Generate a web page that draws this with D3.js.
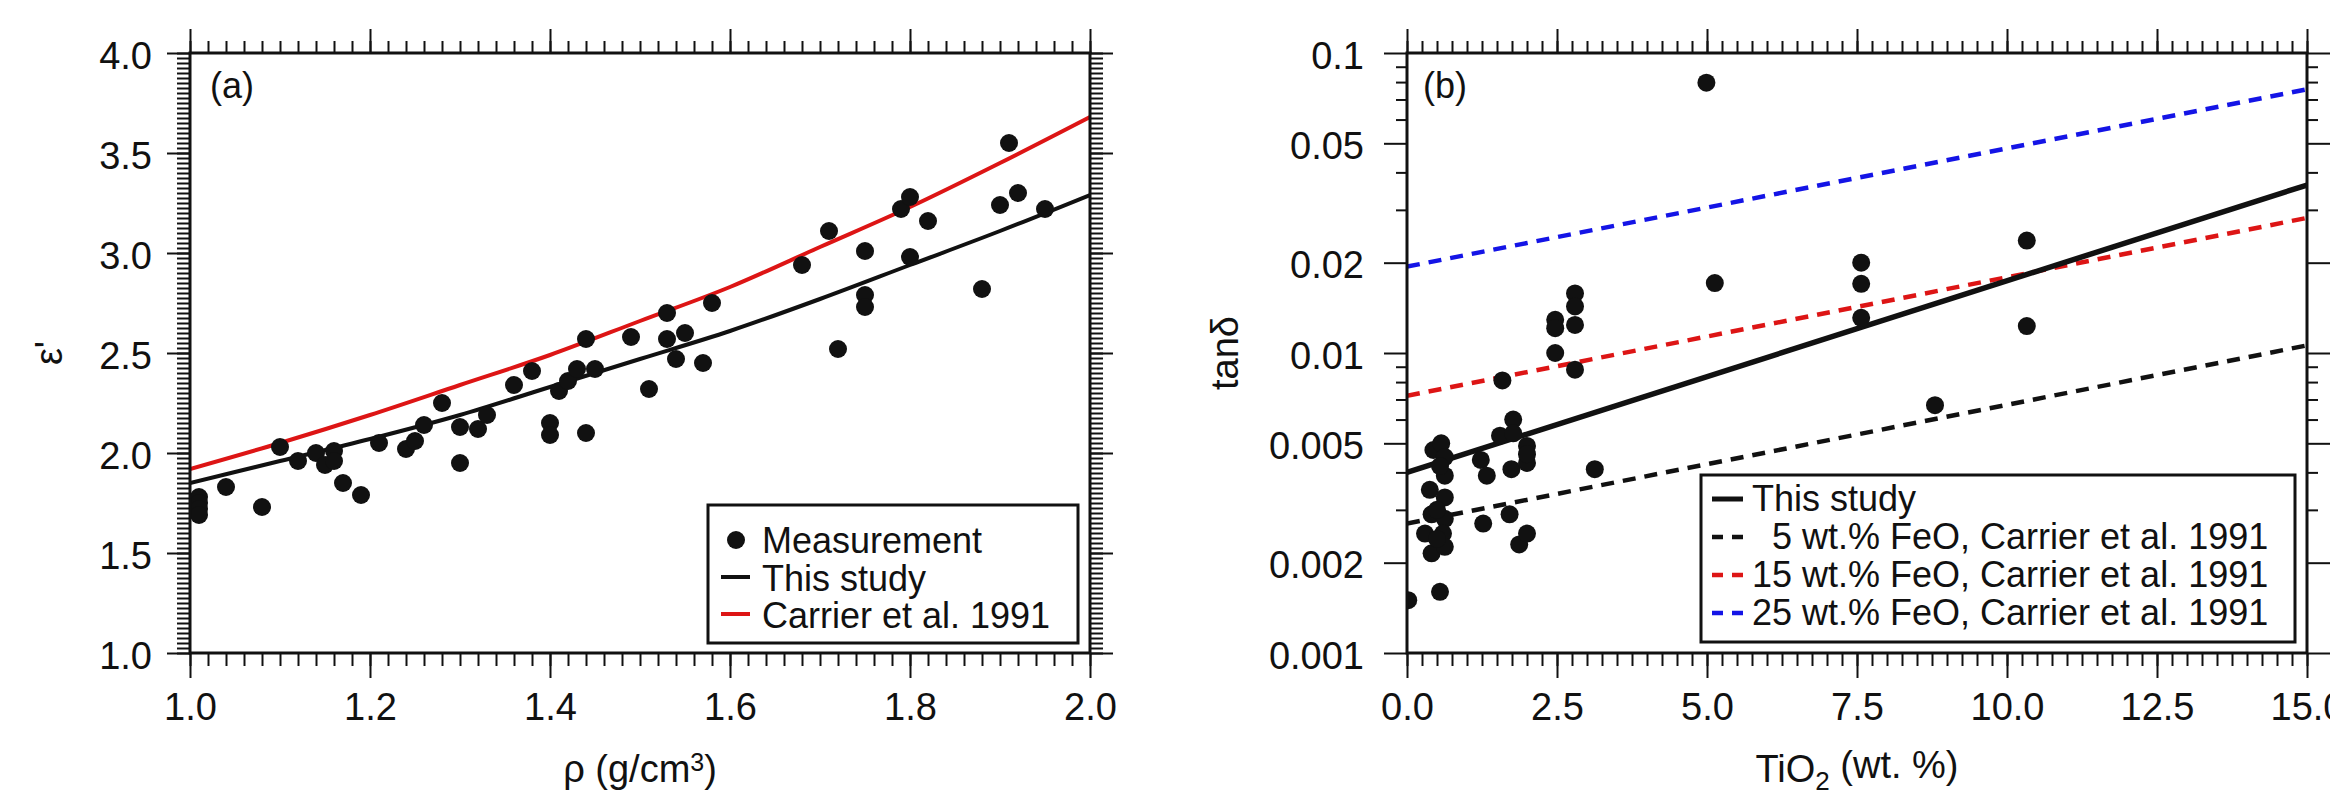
<!DOCTYPE html>
<meta charset="utf-8">
<script src="https://d3js.org/d3.v7.min.js"></script>
<style>
  body { margin: 0; background: #fff; }
  text { font-family: "Liberation Sans", Arial, Helvetica, sans-serif; fill: #111; }
</style>
<div id="my_dataviz"></div>
<script>
// ---- panel (a): permittivity vs bulk density ----
var rhoMeas = [1.01, 1.01, 1.01, 1.01, 1.04, 1.08, 1.10, 1.12, 1.14, 1.15, 1.16, 1.16, 1.17, 1.19,
  1.21, 1.24, 1.25, 1.26, 1.28, 1.30, 1.30, 1.32, 1.33, 1.36, 1.38, 1.40, 1.40, 1.41, 1.42, 1.43,
  1.44, 1.44, 1.45, 1.49, 1.51, 1.53, 1.53, 1.54, 1.55, 1.57, 1.58, 1.68, 1.71, 1.72, 1.75, 1.75,
  1.75, 1.79, 1.80, 1.80, 1.82, 1.88, 1.90, 1.91, 1.92, 1.95];
var epsMeas = [1.78, 1.75, 1.72, 1.69, 1.83, 1.73, 2.03, 1.96, 2.00, 1.94, 2.01, 1.96, 1.85, 1.79,
  2.05, 2.02, 2.06, 2.14, 2.25, 2.13, 1.95, 2.12, 2.19, 2.34, 2.41, 2.15, 2.09, 2.31, 2.36, 2.42,
  2.57, 2.10, 2.42, 2.58, 2.32, 2.70, 2.57, 2.47, 2.60, 2.45, 2.75, 2.94, 3.11, 2.52, 3.01, 2.79,
  2.73, 3.22, 3.28, 2.98, 3.16, 2.82, 3.24, 3.55, 3.30, 3.22];

var rhoCurve = [1.0, 1.1, 1.2, 1.3, 1.4, 1.5, 1.6, 1.7, 1.8, 1.9, 2.0];
var epsThisStudy = [1.85, 1.96, 2.07, 2.19, 2.33, 2.47, 2.61, 2.77, 2.94, 3.11, 3.29];
var epsCarrier = [1.92, 2.05, 2.19, 2.34, 2.49, 2.66, 2.83, 3.03, 3.23, 3.45, 3.68];

var rhoTicks = [1.0, 1.2, 1.4, 1.6, 1.8, 2.0];
var epsTicks = [1.0, 1.5, 2.0, 2.5, 3.0, 3.5, 4.0];
var legendA = ["Measurement", "This study", "Carrier et al. 1991"];

// ---- panel (b): loss tangent vs TiO2 ----
var tio2Meas = [0.02, 0.55, 0.30, 0.38, 0.41, 0.41, 0.44, 0.57, 0.63, 0.63, 0.63, 0.63, 0.60, 0.63,
  0.50, 0.55, 0.50, 1.23, 1.33, 1.27, 1.55, 1.59, 1.77, 1.77, 1.74, 1.71, 1.87, 2.00, 2.00, 2.00,
  2.00, 2.47, 2.47, 2.47, 2.80, 2.80, 2.80, 2.80, 3.13, 4.99, 5.13, 7.57, 7.57, 7.57, 8.80, 10.33, 10.33];
var tanMeas = [0.0015, 0.0016, 0.0025, 0.0035, 0.0029, 0.00215, 0.00475, 0.0050, 0.0045, 0.0039,
  0.0033, 0.0028, 0.0025, 0.00226, 0.0030, 0.0042, 0.0024, 0.0044, 0.0039, 0.0027, 0.0053, 0.0081,
  0.0060, 0.0054, 0.0041, 0.0029, 0.0023, 0.0025, 0.0049, 0.0043, 0.0046, 0.0129, 0.0121, 0.0100,
  0.0158, 0.0143, 0.0124, 0.0088, 0.0041, 0.0796, 0.0171, 0.0200, 0.0170, 0.0131, 0.0067, 0.0237, 0.0123];

var tio2Line = [0, 15];
var tanThisStudy = [0.0040, 0.0363];
var tanFeO5 = [0.0027, 0.0106];
var tanFeO15 = [0.0072, 0.0282];
var tanFeO25 = [0.0194, 0.0757];

var tio2Ticks = [0, 2.5, 5, 7.5, 10, 12.5, 15];
var tanTickLabels = ["0.001", "0.002", "0.005", "0.01", "0.02", "0.05", "0.1"];
var legendB = ["This study", "\u20075 wt.% FeO, Carrier et al. 1991",
  "15 wt.% FeO, Carrier et al. 1991", "25 wt.% FeO, Carrier et al. 1991"];

var RED = "#dd1515", BLUE = "#1414e6", INK = "#111";

// dimensions
var W = 900, H = 600;
var svg = d3.select("#my_dataviz")
  .append("svg")
    .attr("width", 2330)
    .attr("height", 800)
    .style("background", "#fff");

var gA = svg.append("g").attr("transform", "translate(190,53)");
var gB = svg.append("g").attr("transform", "translate(1407,53)");

var xA = d3.scaleLinear().domain([1, 2]).range([0, W]);
var yA = d3.scaleLinear().domain([1, 4]).range([H, 0]);
var xB = d3.scaleLinear().domain([0, 15]).range([0, W]);
var yB = d3.scaleLog().domain([0.001, 0.1]).range([H, 0]);

function addAxis(g, axis, tx, ty) {
  var a = g.append("g").attr("transform", "translate(" + tx + "," + ty + ")").call(axis);
  a.select(".domain").remove();
  a.selectAll(".tick line").attr("stroke", INK).attr("stroke-width", 2);
  a.selectAll(".tick text").style("font-size", "38px").attr("fill", INK);
  return a;
}

function axesFor(g, x, y, xMajor, xMinor, yMajor, yMinor, xFmt, yFmt, yPad, yMinLen) {
  addAxis(g, d3.axisBottom(x).tickValues(xMinor).tickSize(13).tickFormat(""), 0, H);
  addAxis(g, d3.axisBottom(x).tickValues(xMajor).tickSize(25).tickPadding(15).tickFormat(xFmt), 0, H);
  addAxis(g, d3.axisTop(x).tickValues(xMinor).tickSize(12).tickFormat(""), 0, 0);
  addAxis(g, d3.axisTop(x).tickValues(xMajor).tickSize(24).tickFormat(""), 0, 0);
  addAxis(g, d3.axisLeft(y).tickValues(yMinor).tickSize(yMinLen).tickFormat(""), 0, 0);
  addAxis(g, d3.axisLeft(y).tickValues(yMajor).tickSize(23).tickPadding(yPad).tickFormat(yFmt), 0, 0)
    .selectAll(".tick text").attr("dy", "0.4em");
  addAxis(g, d3.axisRight(y).tickValues(yMinor).tickSize(yMinLen).tickFormat(""), W, 0);
  addAxis(g, d3.axisRight(y).tickValues(yMajor).tickSize(23).tickFormat(""), W, 0);
}

// ---------------- panel (a) ----------------
var aMinorX = d3.range(0, 51).map(function(i){ return 1 + i * 0.02; });
var aMinorY = d3.range(0, 121).map(function(i){ return 1 + i * 0.025; });
axesFor(gA, xA, yA, rhoTicks, aMinorX, epsTicks, aMinorY, d3.format(".1f"), d3.format(".1f"), 15, 13);

gA.append("clipPath").attr("id", "clipA").append("rect").attr("width", W).attr("height", H);
gB.append("clipPath").attr("id", "clipB").append("rect").attr("width", W).attr("height", H);

var lineA = d3.line()
  .x(function(d){ return xA(d[0]); })
  .y(function(d){ return yA(d[1]); })
  .curve(d3.curveMonotoneX);

gA.append("path")
  .datum(d3.zip(rhoCurve, epsCarrier))
  .attr("d", lineA).attr("fill", "none").attr("stroke", RED).attr("stroke-width", 4)
  .attr("clip-path", "url(#clipA)");
gA.append("path")
  .datum(d3.zip(rhoCurve, epsThisStudy))
  .attr("d", lineA).attr("fill", "none").attr("stroke", INK).attr("stroke-width", 4)
  .attr("clip-path", "url(#clipA)");

gA.append("g").attr("clip-path", "url(#clipA)")
  .selectAll("circle")
  .data(d3.zip(rhoMeas, epsMeas))
  .enter().append("circle")
    .attr("cx", function(d){ return xA(d[0]); })
    .attr("cy", function(d){ return yA(d[1]); })
    .attr("r", 9)
    .attr("fill", INK);

gA.append("rect").attr("width", W).attr("height", H)
  .attr("fill", "none").attr("stroke", INK).attr("stroke-width", 3);

gA.append("text").attr("x", 20).attr("y", 45).style("font-size", "36px").text("(a)");

// legend (a)
var legA = svg.append("g");
legA.append("rect").attr("x", 708).attr("y", 505).attr("width", 370).attr("height", 138)
  .attr("fill", "#fff").attr("stroke", INK).attr("stroke-width", 3);
legA.append("circle").attr("cx", 736).attr("cy", 540).attr("r", 9).attr("fill", INK);
legA.append("line").attr("x1", 721).attr("x2", 750).attr("y1", 577).attr("y2", 577)
  .attr("stroke", INK).attr("stroke-width", 4);
legA.append("line").attr("x1", 721).attr("x2", 750).attr("y1", 614).attr("y2", 614)
  .attr("stroke", RED).attr("stroke-width", 4);
legA.selectAll("text.lab").data(legendA).enter().append("text")
  .attr("class", "lab")
  .attr("x", 762)
  .attr("y", function(d, i){ return 553 + i * 37.5; })
  .style("font-size", "36px")
  .text(function(d){ return d; });

// axis titles (a)
svg.append("text").attr("transform", "translate(62,353) rotate(-90)")
  .attr("text-anchor", "middle").style("font-size", "38px").text("\u03b5'");
var tA = svg.append("text").attr("x", 640).attr("y", 782).attr("text-anchor", "middle")
  .style("font-size", "38px");
tA.append("tspan").text("\u03c1 (g/cm");
tA.append("tspan").attr("dy", "-0.45em").style("font-size", "25px").text("3");
tA.append("tspan").attr("dy", "0.3em").text(")");

// ---------------- panel (b) ----------------
var bMinorX = d3.range(0, 61).map(function(i){ return i * 0.25; });
var tanTicks = tanTickLabels.map(Number);
var bMinorY = [];
[0.001, 0.01].forEach(function(dec){
  [3, 4, 6, 7, 8, 9].forEach(function(m){ bMinorY.push(dec * m); });
});
axesFor(gB, xB, yB, tio2Ticks, bMinorX, tanTicks, bMinorY, d3.format(".1f"),
  function(d){ return tanTickLabels[tanTicks.indexOf(d)]; }, 20, 11);

var lineB = d3.line()
  .x(function(d){ return xB(d[0]); })
  .y(function(d){ return yB(d[1]); });

var bLines = [
  {v: tanFeO25, color: BLUE, dash: "13,9", w: 4.5},
  {v: tanFeO15, color: RED, dash: "13,9", w: 4.5},
  {v: tanFeO5, color: INK, dash: "13,9", w: 4.5},
  {v: tanThisStudy, color: INK, dash: null, w: 5.5}
];
bLines.forEach(function(s){
  gB.append("path")
    .datum(d3.zip(tio2Line, s.v))
    .attr("d", lineB).attr("fill", "none")
    .attr("stroke", s.color).attr("stroke-width", s.w)
    .attr("stroke-dasharray", s.dash)
    .attr("clip-path", "url(#clipB)");
});

gB.append("g").attr("clip-path", "url(#clipB)")
  .selectAll("circle")
  .data(d3.zip(tio2Meas, tanMeas))
  .enter().append("circle")
    .attr("cx", function(d){ return xB(d[0]); })
    .attr("cy", function(d){ return yB(d[1]); })
    .attr("r", 9)
    .attr("fill", INK);

gB.append("rect").attr("width", W).attr("height", H)
  .attr("fill", "none").attr("stroke", INK).attr("stroke-width", 3);

gB.append("text").attr("x", 16).attr("y", 45).style("font-size", "36px").text("(b)");

// legend (b)
var legB = svg.append("g");
legB.append("rect").attr("x", 1701).attr("y", 475).attr("width", 594).attr("height", 167)
  .attr("fill", "#fff").attr("stroke", INK).attr("stroke-width", 3);
var legBStyle = [
  {color: INK, dash: null, w: 5},
  {color: INK, dash: "11,9", w: 4.5},
  {color: RED, dash: "11,9", w: 4.5},
  {color: BLUE, dash: "11,9", w: 4.5}
];
legBStyle.forEach(function(s, i){
  var yy = 511 + i * 38 - 12;
  legB.append("line").attr("x1", 1712).attr("x2", 1743).attr("y1", yy).attr("y2", yy)
    .attr("stroke", s.color).attr("stroke-width", s.w).attr("stroke-dasharray", s.dash);
});
legB.selectAll("text.lab").data(legendB).enter().append("text")
  .attr("class", "lab")
  .attr("x", 1752)
  .attr("y", function(d, i){ return 511 + i * 38; })
  .style("font-size", "36px")
  .text(function(d){ return d; });

// axis titles (b)
svg.append("text").attr("transform", "translate(1238,353) rotate(-90)")
  .attr("text-anchor", "middle").style("font-size", "38px").text("tan\u03b4");
var tB = svg.append("text").attr("x", 1857).attr("y", 782).attr("text-anchor", "middle")
  .style("font-size", "38px");
tB.append("tspan").text("TiO");
tB.append("tspan").attr("dy", "0.3em").style("font-size", "26px").text("2");
tB.append("tspan").attr("dy", "-0.3em").text(" (wt. %)");
</script>
